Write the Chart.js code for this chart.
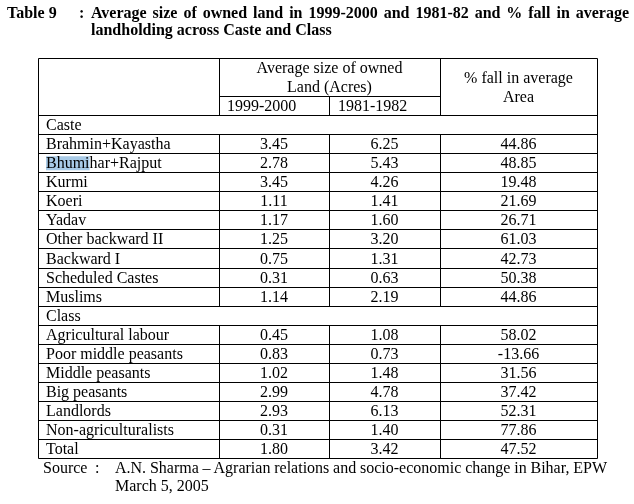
<!DOCTYPE html>
<html>
<head>
<meta charset="utf-8">
<script src="https://cdn.jsdelivr.net/npm/chart.js@4.4.1/dist/chart.umd.min.js"></script>
<style>
  html, body { margin: 0; padding: 0; background: #fff; }
  #wrap { position: relative; width: 634px; height: 504px; overflow: hidden; font-family: "Liberation Serif", "Times New Roman", serif; color: #000; }
  #c { position: absolute; left: 0; top: 0; }
  .t { position: absolute; font-size: 16px; line-height: 17px; white-space: nowrap; }
  .b { font-weight: bold; }
</style>
</head>
<body>
<div id="wrap">
  <canvas id="c" width="634" height="504"></canvas>
  <div class="t b" style="left:7px; top:4px;">Table 9</div>
  <div class="t b" style="left:79px; top:4px;">:</div>
  <div class="t b fit" data-w="538" style="left:91px; top:4px;">Average size of owned land in 1999-2000 and 1981-82 and % fall in average</div>
  <div class="t b" style="left:91px; top:21px;">landholding across Caste and Class</div>
  <div class="t" style="left:43px; top:459px;">Source</div>
  <div class="t" style="left:95px; top:459px;">:</div>
  <div class="t fit" data-w="492" style="left:115px; top:459px;">A.N. Sharma – Agrarian relations and socio-economic change in Bihar, EPW</div>
  <div class="t" style="left:115px; top:477px;">March 5, 2005</div>
</div>
<script>
// ---- Data ----
const casteLabels   = ['Brahmin+Kayastha','Bhumihar+Rajput','Kurmi','Koeri','Yadav','Other backward II','Backward I','Scheduled Castes','Muslims'];
const casteAvg1999  = [3.45, 2.78, 3.45, 1.11, 1.17, 1.25, 0.75, 0.31, 1.14];
const casteAvg1981  = [6.25, 5.43, 4.26, 1.41, 1.60, 3.20, 1.31, 0.63, 2.19];
const castePctFall  = [44.86, 48.85, 19.48, 21.69, 26.71, 61.03, 42.73, 50.38, 44.86];

const classLabels   = ['Agricultural labour','Poor middle peasants','Middle peasants','Big peasants','Landlords','Non-agriculturalists'];
const classAvg1999  = [0.45, 0.83, 1.02, 2.99, 2.93, 0.31];
const classAvg1981  = [1.08, 0.73, 1.48, 4.78, 6.13, 1.40];
const classPctFall  = [58.02, -13.66, 31.56, 37.42, 52.31, 77.86];

const totalLabel    = 'Total';
const totalAvg1999  = 1.80;
const totalAvg1981  = 3.42;
const totalPctFall  = 47.52;

const headerGroup   = ['Average size of owned', 'Land (Acres)'];
const headerYears   = ['1999-2000', '1981-1982'];
const headerFall    = ['% fall in average', 'Area'];
const sectionNames  = ['Caste', 'Class'];

// fit justified single lines to their target width
document.querySelectorAll('.fit').forEach(el => {
  const target = +el.dataset.w;
  const w = el.getBoundingClientRect().width;
  const spaces = (el.textContent.match(/ /g) || []).length;
  if (spaces) el.style.wordSpacing = ((target - w) / spaces) + 'px';
});

// ---- Build rows ----
const rows = [];
rows.push({ label: sectionNames[0], section: true });
casteLabels.forEach((l, i) => rows.push({ label: l, a: casteAvg1999[i], b: casteAvg1981[i], c: castePctFall[i] }));
rows.push({ label: sectionNames[1], section: true });
classLabels.forEach((l, i) => rows.push({ label: l, a: classAvg1999[i], b: classAvg1981[i], c: classPctFall[i] }));
rows.push({ label: totalLabel, a: totalAvg1999, b: totalAvg1981, c: totalPctFall });

const HEADER_ROWS = 3;
const colEdges = [0, 181, 291, 402, 559];
const mid = (i) => (colEdges[i] + colEdges[i + 1]) / 2;

function colData(key, col) {
  const out = [];
  rows.forEach((r, i) => { if (!r.section) out.push({ x: mid(col), y: HEADER_ROWS + i + 0.5, v: r[key] }); });
  return out;
}

const FONT = '16px "Liberation Serif", "Times New Roman", serif';

const tablePlugin = {
  id: 'tableDraw',
  afterDatasetsDraw(chart) {
    const ctx = chart.ctx;
    const xs = chart.scales.x, ys = chart.scales.y;
    const X = (v) => Math.round(xs.getPixelForValue(v)) + 0.5;
    const Y = (v) => Math.round(ys.getPixelForValue(v)) + 0.5;
    const Yraw = (v) => ys.getPixelForValue(v);
    const nRows = HEADER_ROWS + rows.length;
    ctx.save();
    ctx.font = FONT;
    ctx.fillStyle = '#000';

    // highlight on "Bhumi"
    const bIdx = rows.findIndex(r => r.label === 'Bhumihar+Rajput');
    if (bIdx >= 0) {
      const w = ctx.measureText('Bhumi').width;
      const top = Yraw(HEADER_ROWS + bIdx), bot = Yraw(HEADER_ROWS + bIdx + 1);
      ctx.fillStyle = '#a9cbe7';
      ctx.fillRect(xs.getPixelForValue(colEdges[0]) + 8, top + 3, w, bot - top - 5);
      ctx.fillStyle = '#000';
    }

    // borders
    ctx.strokeStyle = '#000';
    ctx.lineWidth = 1;
    ctx.beginPath();
    const line = (x1, y1, x2, y2) => { ctx.moveTo(x1, y1); ctx.lineTo(x2, y2); };
    line(X(colEdges[0]), Y(0), X(colEdges[4]), Y(0));
    line(X(colEdges[0]), Y(nRows), X(colEdges[4]), Y(nRows));
    line(X(colEdges[0]), Y(0), X(colEdges[0]), Y(nRows));
    line(X(colEdges[4]), Y(0), X(colEdges[4]), Y(nRows));
    line(X(colEdges[1]), Y(2), X(colEdges[3]), Y(2));
    line(X(colEdges[1]), Y(0), X(colEdges[1]), Y(HEADER_ROWS));
    line(X(colEdges[3]), Y(0), X(colEdges[3]), Y(HEADER_ROWS));
    line(X(colEdges[2]), Y(2), X(colEdges[2]), Y(HEADER_ROWS));
    rows.forEach((r, i) => {
      const yt = HEADER_ROWS + i;
      line(X(colEdges[0]), Y(yt), X(colEdges[4]), Y(yt));
      if (!r.section) {
        for (let c = 1; c <= 3; c++) line(X(colEdges[c]), Y(yt), X(colEdges[c]), Y(yt + 1));
      }
    });
    ctx.stroke();

    // header text
    ctx.textBaseline = 'alphabetic';
    ctx.textAlign = 'center';
    const grpX = (xs.getPixelForValue(colEdges[1]) + xs.getPixelForValue(colEdges[3])) / 2;
    ctx.fillText(headerGroup[0], grpX, Yraw(1) - 4);
    ctx.fillText(headerGroup[1], grpX, Yraw(2) - 4);
    const fallX = xs.getPixelForValue(mid(3));
    ctx.fillText(headerFall[0], fallX, Yraw(1.5) - 4);
    ctx.fillText(headerFall[1], fallX, Yraw(2.5) - 4);
    ctx.textAlign = 'left';
    ctx.fillText(headerYears[0], xs.getPixelForValue(colEdges[1]) + 8, Yraw(3) - 4);
    ctx.fillText(headerYears[1], xs.getPixelForValue(colEdges[2]) + 9, Yraw(3) - 4);

    // row labels
    rows.forEach((r, i) => {
      ctx.fillText(r.label, xs.getPixelForValue(colEdges[0]) + 8, Yraw(HEADER_ROWS + i + 1) - 4);
    });

    // values from datasets
    ctx.textAlign = 'center';
    const half = (Yraw(1) - Yraw(0)) / 2;
    chart.data.datasets.forEach((ds, di) => {
      const meta = chart.getDatasetMeta(di);
      meta.data.forEach((el, j) => {
        ctx.fillText(ds.data[j].v.toFixed(2), el.x, el.y + half - 4);
      });
    });
    ctx.restore();
  }
};

new Chart(document.getElementById('c'), {
  type: 'scatter',
  data: {
    datasets: [
      { label: headerYears[0], data: colData('a', 1), pointRadius: 0 },
      { label: headerYears[1], data: colData('b', 2), pointRadius: 0 },
      { label: headerFall.join(' '), data: colData('c', 3), pointRadius: 0 }
    ]
  },
  options: {
    responsive: false,
    animation: false,
    events: [],
    layout: { padding: { left: 38, right: 37, top: 58, bottom: 46 } },
    plugins: { legend: { display: false }, tooltip: { enabled: false }, title: { display: false } },
    scales: {
      x: { type: 'linear', min: colEdges[0], max: colEdges[4], display: false },
      y: { type: 'linear', min: 0, max: HEADER_ROWS + rows.length, reverse: true, display: false }
    }
  },
  plugins: [tablePlugin]
});
</script>
</body>
</html>
